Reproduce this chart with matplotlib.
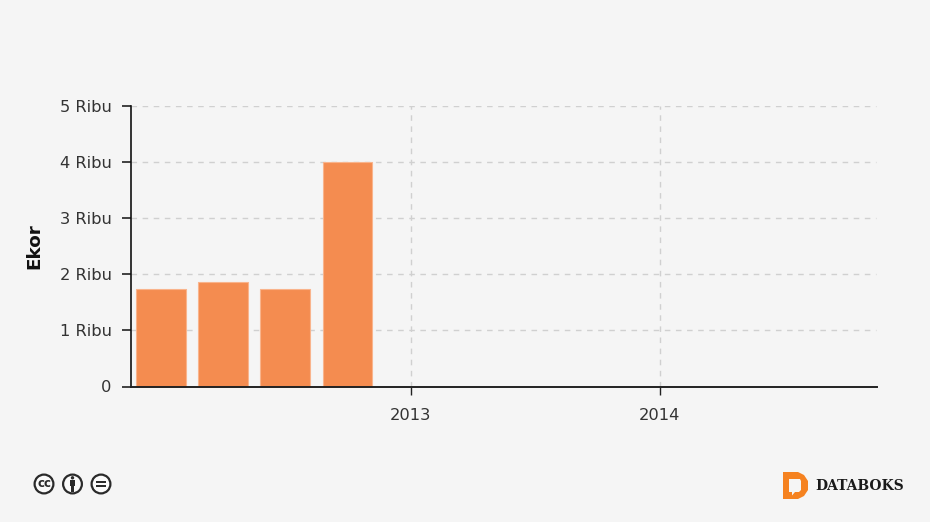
"""Quarterly bar chart (Ekor) with the Databoks footer."""
from datetime import date

import matplotlib
matplotlib.use("Agg")
import matplotlib.dates as mdates
import matplotlib.pyplot as plt
from matplotlib.patches import Circle, PathPatch, Rectangle
from matplotlib.path import Path

W, H = 930, 522
BG = "#f5f5f5"
BAR = "#f48c50"
GRID = "#d0d0d0"
TEXT = "#333333"

quarters = [date(y, m, 1) for y in (2012, 2013, 2014) for m in (1, 4, 7, 10)]
values = [1745, 1868, 1745, 4000, 0, 0, 0, 0, 0, 0, 0, 0]
y_ticks = [0, 1000, 2000, 3000, 4000, 5000]
y_labels = ["0", "1 Ribu", "2 Ribu", "3 Ribu", "4 Ribu", "5 Ribu"]
x_ticks = [date(2013, 1, 1), date(2014, 1, 1)]
x_labels = ["2013", "2014"]

plt.rcParams["font.family"] = ["DejaVu Sans"]

fig = plt.figure(figsize=(W / 100, H / 100), dpi=100, facecolor=BG)

# axes box in pixels, measured on the reference
left, right, top, bottom = 130.5, 877.0, 106.0, 386.5
ax = fig.add_axes([left / W, 1 - bottom / H, (right - left) / W, (bottom - top) / H])
ax.set_facecolor(BG)

x = mdates.date2num(quarters)
days_per_px = (mdates.date2num(x_ticks[1]) - mdates.date2num(x_ticks[0])) / 249.0
ax.bar(x, values, width=49.5 * days_per_px, color=BAR, edgecolor="#f9b48c",
       linewidth=0.8, zorder=3)

x0 = mdates.date2num(x_ticks[0])
ax.set_xlim(x0 - (410.5 - left) * days_per_px, x0 + (right - 410.5) * days_per_px)
ax.set_ylim(0, 5000)

ax.set_xticks(mdates.date2num(x_ticks))
ax.set_xticklabels(x_labels, fontsize=11.7, color=TEXT)
ax.set_yticks(y_ticks)
ax.set_yticklabels(y_labels, fontsize=11.7, color=TEXT)
ax.tick_params(axis="x", length=6, width=1, color="#222222", pad=9.5)
ax.tick_params(axis="y", length=6.5, width=1.2, color="#222222", pad=7)

grid_kw = dict(color=GRID, linewidth=1, dashes=(4, 4), zorder=1)
for v in y_ticks[1:]:
    ax.plot([0, 0.9985], [v, v], transform=ax.get_yaxis_transform(), **grid_kw)
ax.xaxis.grid(True, color=GRID, linewidth=1, linestyle=(0, (4, 4)), zorder=1)
ax.set_axisbelow(True)

for side in ("top", "right"):
    ax.spines[side].set_visible(False)
ax.spines["left"].set_linewidth(1.2)
ax.spines["left"].set_color("#111111")
ax.spines["bottom"].set_linewidth(1.4)
ax.spines["bottom"].set_color("#222222")
ax.spines["bottom"].set_zorder(5)

fig.text(34 / W, 1 - 246 / H, "Ekor", rotation=90, fontsize=13.2, fontweight="bold",
         color="#111111", ha="center", va="center")

# footer icons and logo, drawn in pixel coordinates
ov = fig.add_axes([0, 0, 1, 1], facecolor="none")
ov.set_xlim(0, W)
ov.set_ylim(H, 0)
ov.axis("off")

ICON = "#2a2a2a"
for cx in (44, 72.5, 101):
    ov.add_patch(Circle((cx, 484), 9.4, facecolor="#fafafa", edgecolor=ICON, linewidth=1.6))
ov.text(44, 483.6, "cc", fontsize=8.5, fontweight="bold", color=ICON,
        ha="center", va="center")
# person icon
ov.add_patch(Circle((72.5, 477.8), 1.7, color=ICON, lw=0))
ov.add_patch(Rectangle((69.8, 480), 5.4, 5.6, color=ICON, lw=0))
ov.add_patch(Rectangle((70.8, 485), 3.4, 6.5, color=ICON, lw=0))
# equals icon
ov.add_patch(Rectangle((96, 480.8), 10, 2.2, color=ICON, lw=0))
ov.add_patch(Rectangle((96, 485.2), 10, 2.2, color=ICON, lw=0))

# Databoks D: outer shape with a speech-bubble cut-out
outer = [(783, 472), (798, 472), (804, 475), (808, 481), (808, 490), (804, 496),
         (798, 499), (783, 499), (783, 472)]
inner = [(789, 479), (789, 492), (792, 492), (792, 495.5), (795, 492), (799, 492),
         (801, 490), (801, 481), (800, 479), (789, 479)]
verts = outer + inner
codes = ([Path.MOVETO] + [Path.LINETO] * (len(outer) - 2) + [Path.CLOSEPOLY]
         + [Path.MOVETO] + [Path.LINETO] * (len(inner) - 2) + [Path.CLOSEPOLY])
ov.add_patch(PathPatch(Path(verts, codes), facecolor="#f58220", edgecolor="none"))
ov.text(815, 486, "DATABOKS", fontsize=10, fontweight="bold", color="#1a1a1a",
        family=["DejaVu Serif"], ha="left", va="center")

fig.savefig("out.png", dpi=100, facecolor=BG)
